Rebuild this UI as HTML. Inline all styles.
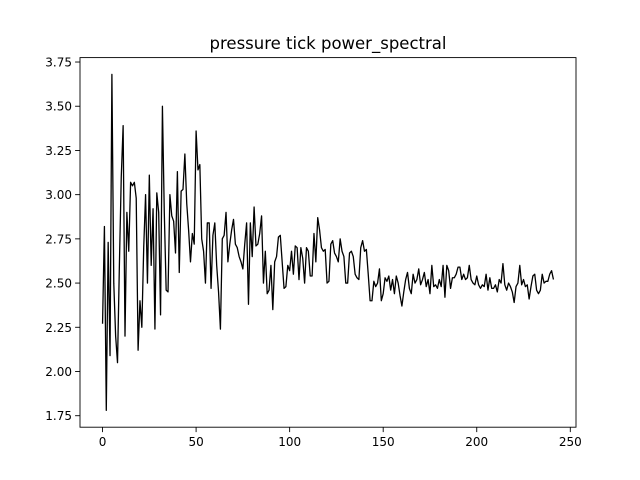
<!DOCTYPE html>
<html><head><meta charset="utf-8"><style>
html,body{margin:0;padding:0;background:#fff;}
svg{display:block;font-family:"DejaVu Sans","Liberation Sans",sans-serif;}
</style></head><body>
<svg id="chart" width="640" height="480" viewBox="0 0 640 480">
<rect width="640" height="480" fill="#fff"/>
<text x="328" y="49" font-size="16.5" text-anchor="middle">pressure tick power_spectral</text>
<g id="xt"></g>
<g id="yt"></g>
<path id="line" fill="none" stroke="#000" stroke-width="1.3" stroke-linejoin="round"/>
<rect x="80" y="57.6" width="496" height="369.6" fill="none" stroke="#000" stroke-width="0.9"/>
</svg>
<script>
const values = [2.27,2.82,1.78,2.73,2.09,3.68,2.5,2.2,2.05,2.6,3.1,3.39,2.2,2.9,2.68,3.07,3.05,3.07,2.98,2.12,
2.4,2.25,2.7,3.0,2.5,3.11,2.6,2.92,2.24,3.01,2.9,2.32,3.5,2.9,2.46,2.45,3.0,2.88,2.85,2.67,
3.13,2.56,3.02,3.03,3.23,2.95,2.8,2.62,2.78,2.72,3.36,3.14,3.17,2.75,2.68,2.5,2.84,2.84,2.47,2.77,
2.84,2.6,2.45,2.24,2.75,2.77,2.9,2.62,2.72,2.8,2.86,2.72,2.7,2.65,2.62,2.58,2.72,2.84,2.38,2.84,
2.65,2.93,2.71,2.72,2.78,2.88,2.5,2.68,2.44,2.46,2.6,2.35,2.62,2.65,2.76,2.77,2.62,2.47,2.48,2.6,
2.57,2.68,2.55,2.71,2.7,2.52,2.7,2.64,2.5,2.7,2.68,2.54,2.54,2.78,2.62,2.87,2.8,2.7,2.68,2.69,
2.5,2.51,2.72,2.74,2.67,2.65,2.62,2.75,2.68,2.65,2.5,2.5,2.67,2.68,2.65,2.55,2.53,2.52,2.7,2.74,
2.68,2.69,2.55,2.4,2.4,2.51,2.48,2.5,2.58,2.4,2.44,2.53,2.51,2.54,2.46,2.52,2.44,2.54,2.5,2.43,
2.37,2.45,2.52,2.56,2.47,2.44,2.55,2.5,2.52,2.58,2.49,2.52,2.56,2.48,2.52,2.44,2.6,2.48,2.49,2.47,
2.52,2.48,2.6,2.42,2.6,2.57,2.47,2.53,2.53,2.55,2.59,2.59,2.52,2.55,2.52,2.53,2.6,2.52,2.5,2.49,
2.54,2.49,2.47,2.49,2.48,2.55,2.46,2.53,2.47,2.47,2.49,2.45,2.52,2.5,2.61,2.49,2.46,2.5,2.48,2.45,
2.39,2.48,2.5,2.6,2.49,2.52,2.48,2.49,2.41,2.48,2.54,2.55,2.46,2.44,2.46,2.55,2.5,2.51,2.51,2.55,
2.57,2.52];
const xTicks = [0,50,100,150,200,250];
const yTicks = [1.75,2.00,2.25,2.50,2.75,3.00,3.25,3.50,3.75];
const L=80,R=576,T=57.6,B=427.2;
const n=values.length-1;
const xmin=-n*0.05,xmax=n*1.05;
const vmin=Math.min(...values),vmax=Math.max(...values),pad=(vmax-vmin)*0.05;
const ymin=vmin-pad,ymax=vmax+pad;
const X=v=>L+(v-xmin)/(xmax-xmin)*(R-L);
const Y=v=>B-(v-ymin)/(ymax-ymin)*(B-T);
const NS='http://www.w3.org/2000/svg';
const xt=document.getElementById('xt'),yt=document.getElementById('yt');
xTicks.forEach(t=>{
  const x=X(t);
  const l=document.createElementNS(NS,'line');
  l.setAttribute('x1',x);l.setAttribute('x2',x);l.setAttribute('y1',B);l.setAttribute('y2',B+4.9);l.setAttribute('stroke','#000');l.setAttribute('stroke-width','0.9');
  
  
  xt.appendChild(l);
  const s=document.createElementNS(NS,'text');
  s.setAttribute('x',x);s.setAttribute('y',B+19);s.setAttribute('font-size','12');s.setAttribute('text-anchor','middle');
  s.textContent=t;
  
  
  xt.appendChild(s);
});
yTicks.forEach(t=>{
  const y=Y(t);
  const l=document.createElementNS(NS,'line');
  l.setAttribute('x1',L-4.9);l.setAttribute('x2',L);l.setAttribute('y1',y);l.setAttribute('y2',y);l.setAttribute('stroke','#000');l.setAttribute('stroke-width','0.9');
  
  
  yt.appendChild(l);
  const s=document.createElementNS(NS,'text');
  s.setAttribute('x',L-8);s.setAttribute('y',y+4.5);s.setAttribute('font-size','12');s.setAttribute('text-anchor','end');
  s.textContent=t.toFixed(2);
  
  
  yt.appendChild(s);
});
document.getElementById('line').setAttribute('d',values.map((v,i)=>(i?'L':'M')+X(i).toFixed(2)+','+Y(v).toFixed(2)).join(''));
</script>
</body></html>
